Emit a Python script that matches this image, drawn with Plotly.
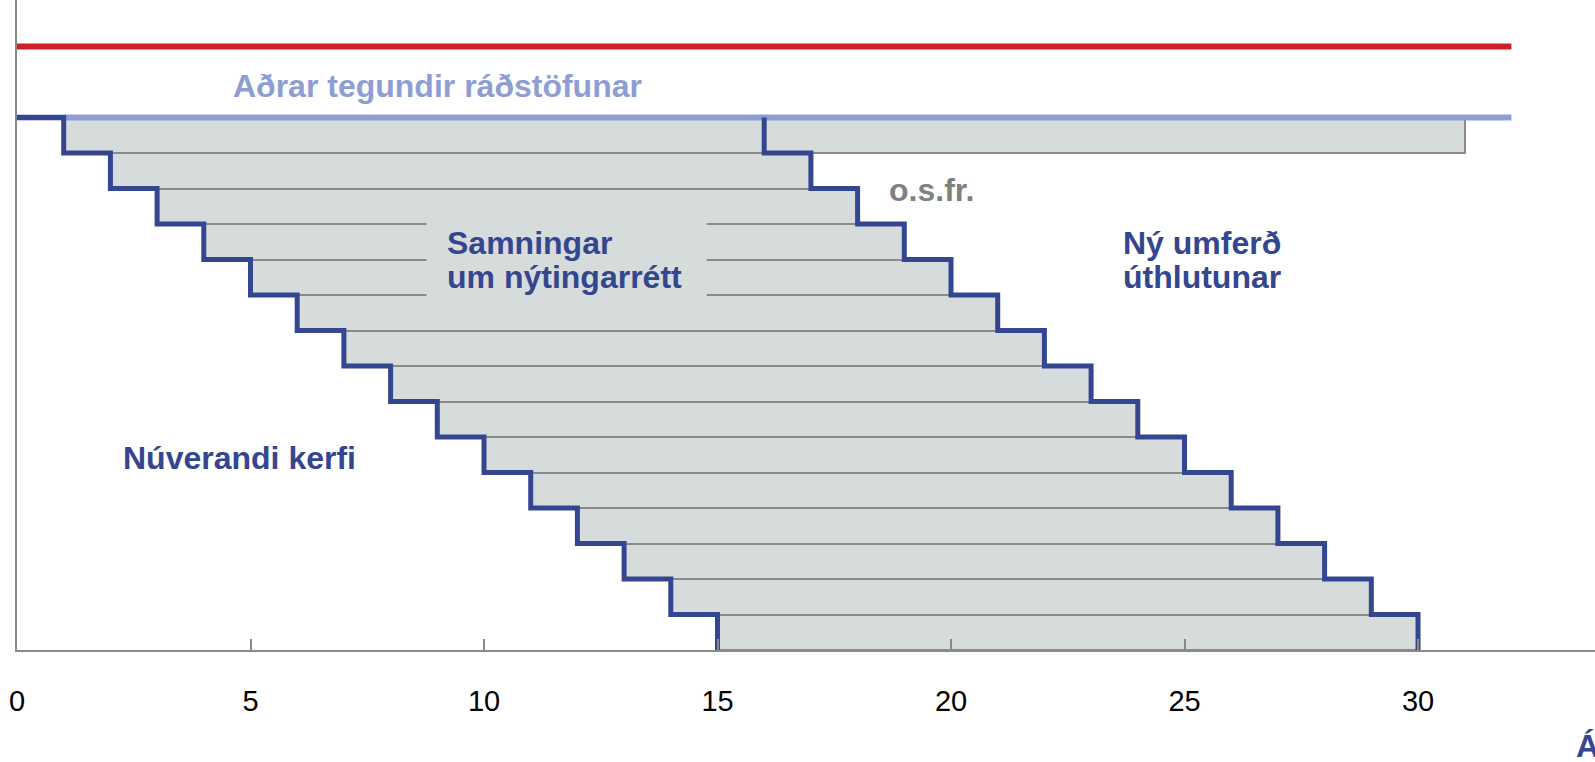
import plotly.graph_objects as go

# ---- data ----
row_y = [14.5, 13.5, 12.5, 11.5, 10.5, 9.5, 8.5, 7.5, 6.5, 5.5, 4.5, 3.5, 2.5, 1.5, 0.5]
contract_start = [1, 2, 3, 4, 5, 6, 7, 8, 9, 10, 11, 12, 13, 14, 15]
contract_end = [16, 17, 18, 19, 20, 21, 22, 23, 24, 25, 26, 27, 28, 29, 30]
renewal_start = [16]
renewal_end = [31]
renewal_y = [14.5]

current_x = [0, 1, 2, 3, 4, 5, 6, 7, 8, 9, 10, 11, 12, 13, 14, 15]
current_y = [15, 14, 13, 12, 11, 10, 9, 8, 7, 6, 5, 4, 3, 2, 1, 0]
newround_x = [16, 17, 18, 19, 20, 21, 22, 23, 24, 25, 26, 27, 28, 29, 30, 30]
newround_y = [15, 14, 13, 12, 11, 10, 9, 8, 7, 6, 5, 4, 3, 2, 1, 0]

red_x = [0, 32]
red_y = [17, 17]
other_x = [0, 32]
other_y = [15, 15]

x_ticks = [0, 5, 10, 15, 20, 25, 30, 35]

FILL = "#D6DCDC"
EDGE = "#8A8A8A"
DARK = "#354690"
LIGHT = "#8E9ED3"
RED = "#CD2129"
FONT = "Liberation Sans, Arial, sans-serif"

fig = go.Figure()

fig.add_trace(go.Bar(
    y=row_y, base=contract_start,
    x=[e - s for s, e in zip(contract_start, contract_end)],
    orientation="h", width=1,
    marker=dict(color=FILL, line=dict(color=EDGE, width=2)),
    hoverinfo="skip", showlegend=False))
fig.add_trace(go.Bar(
    y=renewal_y, base=renewal_start,
    x=[e - s for s, e in zip(renewal_start, renewal_end)],
    orientation="h", width=1,
    marker=dict(color=FILL, line=dict(color=EDGE, width=2)),
    hoverinfo="skip", showlegend=False))

fig.add_trace(go.Scatter(x=red_x, y=red_y, mode="lines",
                         line=dict(color=RED, width=6), showlegend=False, hoverinfo="skip"))
fig.add_trace(go.Scatter(x=other_x, y=other_y, mode="lines",
                         line=dict(color=LIGHT, width=6), showlegend=False, hoverinfo="skip"))
fig.add_trace(go.Scatter(x=current_x, y=current_y, mode="lines",
                         line=dict(color=DARK, width=5, shape="hv"), showlegend=False, hoverinfo="skip"))
fig.add_trace(go.Scatter(x=newround_x, y=newround_y, mode="lines",
                         line=dict(color=DARK, width=5, shape="vh"), showlegend=False, hoverinfo="skip"))

# background box behind the centre label (breaks the row lines)
fig.add_shape(type="rect", x0=8.77, x1=14.77, y0=9.6, y1=12.4,
              fillcolor=FILL, line=dict(width=0), layer="above")

def label(x, y, text, color, anchor="left"):
    fig.add_annotation(x=x, y=y, xref="x", yref="y", text="<b>%s</b>" % text,
                       showarrow=False, xanchor=anchor, yanchor="middle",
                       font=dict(family=FONT, size=32, color=color))

label(9.0, 15.9, "Aðrar tegundir ráðstöfunar", LIGHT, "center")
label(9.17, 11.47, "Samningar", DARK)
label(9.17, 10.5, "um nýtingarrétt", DARK)
label(18.62, 12.96, "o.s.fr.", "#808080")
label(23.64, 11.47, "Ný umferð", DARK)
label(23.64, 10.5, "úthlutunar", DARK)
label(2.22, 5.41, "Núverandi kerfi", DARK)

fig.add_annotation(x=0.9865, y=-0.148, xref="paper", yref="paper", text="<b>Ár</b>",
                   showarrow=False, xanchor="left", yanchor="middle",
                   font=dict(family=FONT, size=32, color=DARK))

fig.update_layout(
    width=1595, height=762,
    margin=dict(l=17, r=0, t=0, b=112),
    paper_bgcolor="white", plot_bgcolor="white",
    barmode="overlay", bargap=0,
    xaxis=dict(range=[0, 33.79], showgrid=False, zeroline=False,
               showline=True, linecolor="#8A8A8A", linewidth=2,
               tickmode="array", tickvals=x_ticks, ticks="inside", ticklen=11,
               tickcolor="#8A8A8A", tickwidth=1.5, ticklabelstandoff=24,
               tickfont=dict(family=FONT, size=29, color="black")),
    yaxis=dict(range=[0, 18.31], showgrid=False, zeroline=False,
               showline=True, linecolor="#8A8A8A", linewidth=2,
               showticklabels=False, ticks=""),
)

fig.write_html("out.html", config={"displayModeBar": False},
               post_script="document.body.style.margin='0';document.body.style.overflow='hidden';")
